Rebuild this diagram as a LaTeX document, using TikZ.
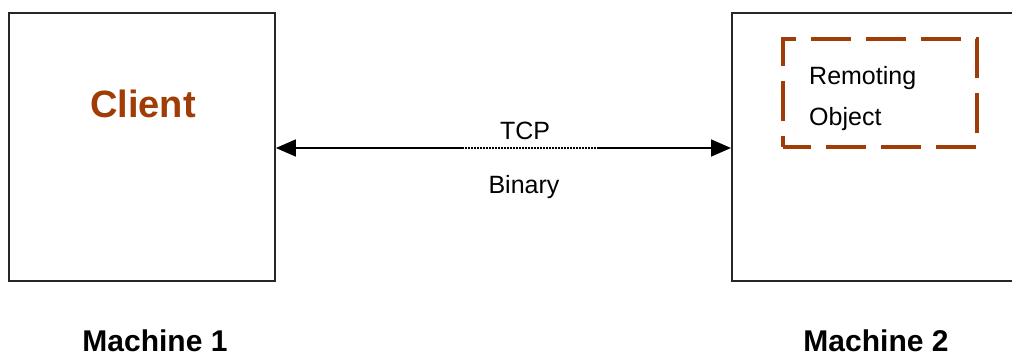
\documentclass[tikz,border=0pt]{standalone}
\usepackage{fontspec}
\setmainfont{Liberation Sans}
\usetikzlibrary{arrows.meta}
\definecolor{rust}{RGB}{160,60,5}
\tikzset{
  machine/.style={draw=black!85, line width=1.8pt, fill=white, inner sep=0pt},
  link/.style={line width=1.8pt, black},
  tip/.style={-{Triangle[length=20pt,width=17pt]}},
  lbl/.style={font=\fontsize{25}{30}\selectfont, inner sep=0pt},
  mlabel/.style={font=\fontsize{30}{36}\selectfont\bfseries, inner sep=0pt},
}
\begin{document}
\begin{tikzpicture}[x=1pt,y=1pt]
\useasboundingbox (0,0) rectangle (1012,356);
\clip (0,0) rectangle (1012,356);
\fill[white] (0,0) rectangle (1012,356);

% the two machines
\node[machine, minimum width=266pt, minimum height=268pt] (m1) at (142,209) {};
\node[machine, minimum width=300pt, minimum height=268pt, anchor=west] (m2) at (731,209) {};

% client label
\node[font=\fontsize{38}{44}\selectfont\bfseries, text=rust, inner sep=0pt] (client) at (143,252) {Client};

% remoting object
\node[draw=rust, line width=3.2pt, dash pattern=on 40pt off 15pt, dash phase=12pt,
      minimum width=194pt, minimum height=108pt, inner sep=0pt] (obj) at (880,263) {};
\node[lbl, anchor=base west] (rem) at (809,271) {Remoting};
\node[lbl, anchor=base west] (objt) at (809,230) {Object};

% connection
\coordinate (d1) at (462,208);
\coordinate (d2) at (597,208);
\draw[link, tip] (d1) -- (m1.east |- d1);
\draw[line width=1.2pt, dash pattern=on 1.5pt off 1.5pt] (d1) -- (d2);
\draw[link, tip] (d2) -- (m2.west |- d2);

\node[lbl, anchor=base] (tcp) at (525,216) {TCP};
\node[lbl, anchor=base] (bin) at (524,162) {Binary};

% machine captions
\node[mlabel, anchor=base] (c1) at (155,5) {Machine 1};
\node[mlabel, anchor=base] (c2) at (876,5) {Machine 2};
\end{tikzpicture}
\end{document}
